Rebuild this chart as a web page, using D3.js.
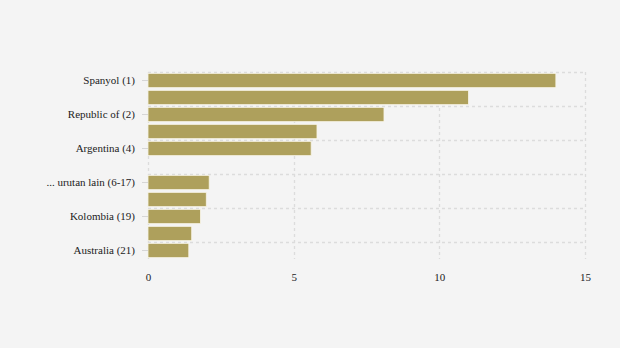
<!DOCTYPE html>
<html>
<head>
<meta charset="utf-8">
<script src="https://cdn.jsdelivr.net/npm/d3@7"></script>
<style>
  html, body { margin: 0; padding: 0; background: #f4f4f4; }
  svg { display: block; font-family: "Liberation Serif", "Times New Roman", serif; }
</style>
</head>
<body>
<svg id="chart" width="620" height="348"></svg>
<script>
// Row keys (one per bar slot) and the labels shown beside every other row
const rows = ["r1", "r2", "r3", "r4", "r5", "r6", "r7", "r8", "r9", "r10", "r11"];
const rowLabels = ["Spanyol (1)", "", "Republic of (2)", "", "Argentina (4)", "",
                   "... urutan lain (6-17)", "", "Kolombia (19)", "", "Australia (21)"];
const values = [14.0, 11.0, 8.1, 5.8, 5.6, null, 2.1, 2.0, 1.8, 1.5, 1.4];
const xTicks = [0, 5, 10, 15];

const svg = d3.select("#chart");
const margin = { top: 72, right: 35, bottom: 89, left: 148 };
const width = 620 - margin.left - margin.right;
const height = 348 - margin.top - margin.bottom;

const x = d3.scaleLinear().domain([0, 15]).range([0, width]);
const y = d3.scaleBand().domain(rows).range([0, height]).paddingInner(0.16).paddingOuter(0.08);

const g = svg.append("g").attr("transform", `translate(${margin.left},${margin.top})`);

const labelled = rows.filter((r, i) => rowLabels[i] !== "");
const gridColor = "#dcdcdc";

// horizontal dashed gridlines at the top of each labelled row
g.append("g").selectAll("line").data(labelled).join("line")
  .attr("x1", 0).attr("x2", width)
  .attr("y1", d => Math.round(y(d) - y.step() * y.paddingInner() / 2) + 0.5)
  .attr("y2", d => Math.round(y(d) - y.step() * y.paddingInner() / 2) + 0.5)
  .attr("stroke", gridColor).attr("stroke-width", 1.3).attr("stroke-dasharray", "3,3");

// vertical dashed gridlines
g.append("g").selectAll("line").data(xTicks).join("line")
  .attr("x1", d => Math.round(x(d)) + 0.5).attr("x2", d => Math.round(x(d)) + 0.5)
  .attr("y1", 0).attr("y2", height)
  .attr("stroke", gridColor).attr("stroke-width", 1.3).attr("stroke-dasharray", "3,3");

// bars
g.append("g").selectAll("rect")
  .data(rows.map((r, i) => ({ r, v: values[i] })).filter(d => d.v != null))
  .join("rect")
  .attr("x", x(0))
  .attr("y", d => y(d.r))
  .attr("width", d => x(d.v) - x(0))
  .attr("height", y.bandwidth())
  .attr("fill", "#aea05c")
  .attr("stroke", "#f8f4e6").attr("stroke-width", 0.8);

// y axis: labels for every other row
const yAxis = d3.axisLeft(y)
  .tickValues(labelled)
  .tickFormat(d => rowLabels[rows.indexOf(d)])
  .tickSize(6).tickPadding(7);
const ya = g.append("g").call(yAxis);
ya.select(".domain").remove();
ya.selectAll(".tick line").attr("stroke", "#d6d6d6");
ya.selectAll(".tick text").attr("fill", "#222").attr("font-size", 11)
  .attr("font-family", "Liberation Serif, serif");

// x axis
const xAxis = d3.axisBottom(x).tickValues(xTicks).tickSize(0).tickPadding(14);
const xa = g.append("g").attr("transform", `translate(0,${height})`).call(xAxis);
xa.select(".domain").remove();
xa.selectAll(".tick text").attr("fill", "#222").attr("font-size", 11)
  .attr("font-family", "Liberation Serif, serif");
</script>
</body>
</html>
